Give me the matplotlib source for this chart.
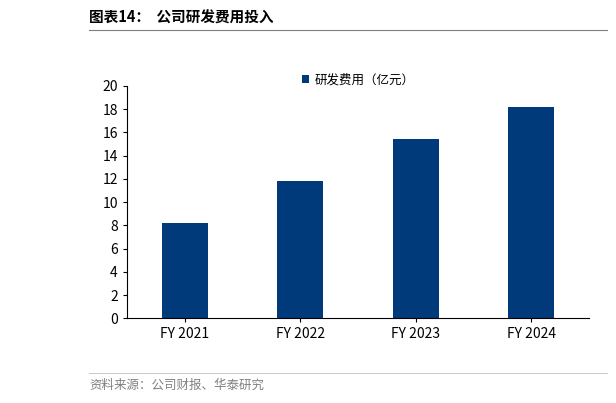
import matplotlib.pyplot as plt
from matplotlib.lines import Line2D

plt.rcParams['font.family'] = ['Noto Sans CJK SC', 'DejaVu Sans']

years = ['FY 2021', 'FY 2022', 'FY 2023', 'FY 2024']
rd_spend = [8.2, 11.8, 15.4, 18.2]

fig = plt.figure(figsize=(6.16, 4.03), dpi=100)
ax = fig.add_axes([0.206, 0.21, 0.75, 0.577])

ax.bar(years, rd_spend, width=0.4, color='#003A7A', label='研发费用（亿元）')
ax.set_ylim(0, 20)
ax.set_yticks(range(0, 21, 2))
ax.set_xlim(-0.5, 3.5)
ax.tick_params(labelsize=10, length=3)
for s in ['top', 'right']:
    ax.spines[s].set_visible(False)
ax.legend(loc='upper center', bbox_to_anchor=(0.5, 1.1), frameon=False,
          fontsize=9, handlelength=0.6, handleheight=0.6, handletextpad=0.4)

fig.text(0.145, 0.955, '图表14：  公司研发费用投入', fontsize=10.5, fontweight='bold', va='center')
fig.add_artist(Line2D([0.145, 0.985], [0.925, 0.925], color='#7f7f7f', lw=0.8))
fig.add_artist(Line2D([0.145, 0.985], [0.075, 0.075], color='#bfbfbf', lw=0.6))
fig.text(0.145, 0.045, '资料来源：公司财报、华泰研究', fontsize=9, color='#808080', va='center')

fig.savefig('out.png')
